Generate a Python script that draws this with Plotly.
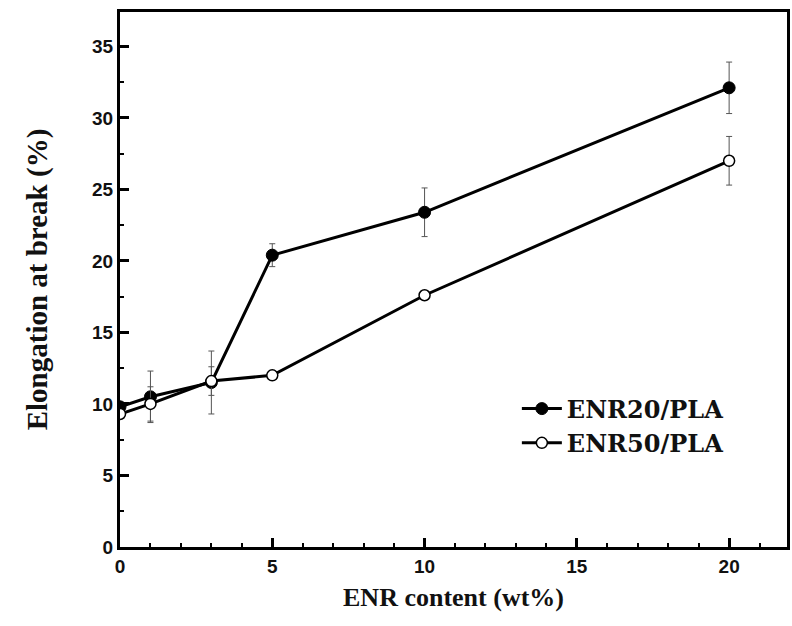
import plotly.graph_objects as go

# ENR loading (wt%)
enr_content = [0, 1, 3, 5, 10, 20]

# Elongation at break (%) and standard deviations
enr20_elong = [9.8, 10.5, 11.5, 20.4, 23.4, 32.1]
enr20_err = [0.3, 1.8, 2.2, 0.8, 1.7, 1.8]
enr50_elong = [9.3, 10.0, 11.6, 12.0, 17.6, 27.0]
enr50_err = [0.3, 1.2, 1.0, 0.3, 0.3, 1.7]

x_ticks = [0, 5, 10, 15, 20]
y_ticks = [0, 5, 10, 15, 20, 25, 30, 35]

fig = go.Figure()

err_style = dict(type="data", visible=True, color="#555555", thickness=1, width=3)

fig.add_trace(go.Scatter(
    x=enr_content, y=enr20_elong, name="ENR20/PLA",
    mode="lines+markers",
    line=dict(color="black", width=3),
    marker=dict(symbol="circle", size=12, color="black", line=dict(color="black", width=1)),
    error_y=dict(array=enr20_err, **err_style),
))
fig.add_trace(go.Scatter(
    x=enr_content, y=enr50_elong, name="ENR50/PLA",
    mode="lines+markers",
    line=dict(color="black", width=3),
    marker=dict(symbol="circle", size=11, color="white", line=dict(color="black", width=1.5)),
    error_y=dict(array=enr50_err, **err_style),
))

axis_common = dict(
    showline=True, linecolor="black", linewidth=3, mirror=True,
    ticks="inside", ticklen=9, tickwidth=2.5, tickcolor="black",
    showgrid=False, zeroline=False,
    tickfont=dict(family="Liberation Sans", size=19, color="#111111", weight="bold"),
)

fig.update_xaxes(
    range=[0, 21.9], tickvals=x_ticks,
    minor=dict(dtick=1, ticks="inside", ticklen=4, tickwidth=2, tickcolor="black"),
    title=dict(text="ENR content (wt%)", standoff=13,
               font=dict(family="Liberation Serif", size=26, color="#111111", weight="bold")),
    **axis_common,
)
fig.update_yaxes(
    range=[0, 37.4], tickvals=y_ticks,
    minor=dict(dtick=2.5, ticks="inside", ticklen=4, tickwidth=2, tickcolor="black"),
    title=dict(text="Elongation at break (%)", standoff=36,
               font=dict(family="Liberation Serif", size=29, color="#111111", weight="bold")),
    **axis_common,
)

fig.update_layout(
    width=792, height=626,
    margin=dict(l=120, r=2, t=12, b=79),
    paper_bgcolor="white", plot_bgcolor="white",
    showlegend=True,
    legend=dict(
        x=0.595, y=0.30, xanchor="left", yanchor="top",
        bgcolor="rgba(0,0,0,0)",
        font=dict(family="DejaVu Serif", size=24, color="#111111", weight="bold"),
        itemwidth=40,
    ),
)

fig.write_html("out.html")
